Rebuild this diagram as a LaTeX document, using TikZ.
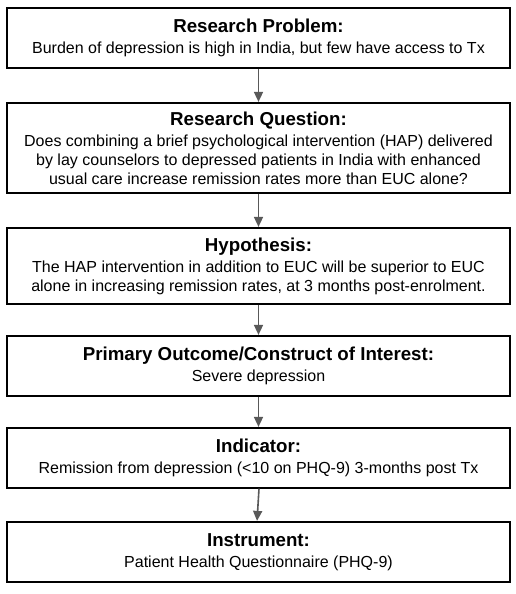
\documentclass[tikz,border=0pt]{standalone}
\usepackage{fontspec}
\setmainfont{Liberation Sans}
\usetikzlibrary{arrows.meta}
\newcommand\boxttl[1]{{\fontsize{18.7}{21}\selectfont\bfseries #1}}
\begin{document}
\begin{tikzpicture}[x=1pt,y=-1pt,
  box/.style={draw=black, line width=1.2pt, minimum width=503pt, inner sep=0pt, align=center,
    font=\fontsize{16}{19}\selectfont},
  arr/.style={draw=black!65, line width=1.6pt, -{Triangle[length=10pt,width=9pt]}, shorten >=0.5pt}]
\useasboundingbox (0,0) rectangle (515,594);
\fill[white] (0,0) rectangle (515,594);
\node[box, minimum height=60pt] (b1) at (258.5,38) {\boxttl{Research Problem:}\\[2pt]Burden of depression is high in India, but few have access to Tx};
\node[box, minimum height=90pt] (b2) at (258.5,148) {\boxttl{Research Question:}\\[2pt]Does combining a brief psychological intervention (HAP) delivered\\by lay counselors to depressed patients in India with enhanced\\usual care increase remission rates more than EUC alone?};
\node[box, minimum height=76pt] (b3) at (258.5,266) {\boxttl{Hypothesis:}\\[2pt]The HAP intervention in addition to EUC will be superior to EUC\\alone in increasing remission rates, at 3 months post-enrolment.};
\node[box, minimum height=60pt] (b4) at (258.5,366) {\boxttl{Primary Outcome/Construct of Interest:}\\[2pt]Severe depression};
\node[box, minimum height=60pt] (b5) at (258.5,458) {\boxttl{Indicator:}\\[2pt]Remission from depression (<10 on PHQ-9) 3-months post Tx};
\node[box, minimum height=60pt] (b6) at (258.5,552) {\boxttl{Instrument:}\\[2pt]Patient Health Questionnaire (PHQ-9)};
\draw[arr] (b1.south) -- (b2.north);
\draw[arr] (b2.south) -- (b3.north);
\draw[arr] (b3.south) -- (b4.north);
\draw[arr] (b4.south) -- (b5.north);
\draw[arr] ([xshift=0.5pt]b5.south) -- ([xshift=-1.5pt]b6.north);
\end{tikzpicture}
\end{document}
